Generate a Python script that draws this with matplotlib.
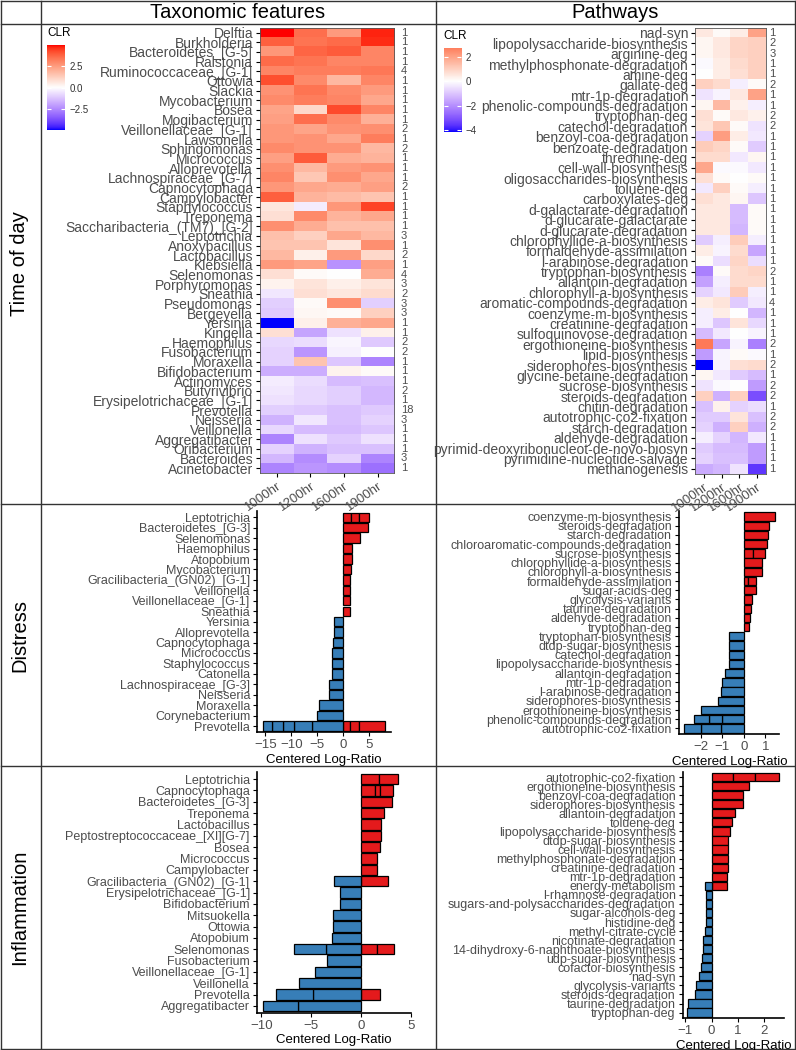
import numpy as np
import matplotlib
matplotlib.use('Agg')
import matplotlib.pyplot as plt
import matplotlib.colors as mcolors
from matplotlib.transforms import blended_transform_factory

plt.rcParams['font.family'] = ['Liberation Sans', 'DejaVu Sans']

### data: time of day heatmaps
hours = ['1000hr', '1200hr', '1600hr', '1900hr']

tax_names = ['Delftia', 'Burkholderia', 'Bacteroidetes_[G-5]', 'Ralstonia', 'Ruminococcaceae_[G-1]',
             'Ottowia', 'Slackia', 'Mycobacterium', 'Bosea', 'Mogibacterium', 'Veillonellaceae_[G-1]',
             'Lawsonella', 'Sphingomonas', 'Micrococcus', 'Alloprevotella', 'Lachnospiraceae_[G-7]',
             'Capnocytophaga', 'Campylobacter', 'Staphylococcus', 'Treponema',
             'Saccharibacteria_(TM7)_[G-2]', 'Leptotrichia', 'Anoxybacillus', 'Lactobacillus',
             'Klebsiella', 'Selenomonas', 'Porphyromonas', 'Sneathia', 'Pseudomonas', 'Bergeyella',
             'Yersinia', 'Kingella', 'Haemophilus', 'Fusobacterium', 'Moraxella', 'Bifidobacterium',
             'Actinomyces', 'Butyrivibrio', 'Erysipelotrichaceae_[G-1]', 'Prevotella', 'Neisseria',
             'Veillonella', 'Aggregatibacter', 'Oribacterium', 'Bacteroides', 'Acinetobacter']
tax_counts = [1, 1, 1, 1, 4, 1, 1, 1, 1, 1, 2, 1, 2, 1, 1, 1, 2, 1, 1, 1, 1, 3, 1, 2,
              1, 4, 3, 2, 3, 3, 1, 1, 2, 2, 1, 1, 1, 2, 1, 18, 3, 1, 1, 1, 3, 1]
tax_clr = [
    [4.9, 3.5, 2.5, 4.7], [3.8, 3.4, 3.6, 4.6], [2.6, 3.7, 3.9, 3.0], [3.6, 3.4, 3.0, 3.0],
    [3.0, 3.2, 3.2, 3.3], [4.1, 2.9, 1.8, 3.0], [2.7, 3.4, 2.9, 2.5], [2.9, 3.2, 3.0, 2.2],
    [2.3, 1.0, 4.2, 3.0], [2.4, 3.5, 2.9, 2.0], [2.6, 2.3, 2.7, 2.8], [2.6, 2.7, 2.2, 3.2],
    [2.9, 2.7, 2.7, 1.8], [2.4, 3.9, 2.1, 1.9], [2.8, 1.8, 2.5, 2.7], [3.0, 1.4, 2.8, 2.2],
    [2.6, 2.2, 2.1, 2.4], [3.8, 1.9, 1.7, 1.5], [0.6, -0.4, 2.6, 4.3], [0.8, 2.9, 1.9, 2.2],
    [2.8, 2.1, 1.6, 1.6], [1.6, 1.2, 2.2, 1.8], [1.5, 1.5, 0.7, 2.8], [1.8, 0.4, 2.5, 1.0],
    [2.5, 2.3, -2.3, 2.4], [0.8, 0.1, 0.0, 2.1], [0.3, 0.7, 0.4, 0.7], [-0.5, 0.8, 0.6, 0.9],
    [-1.0, 0.1, 2.8, -1.0], [-1.1, 0.2, 0.1, 1.2], [-4.9, 0.4, 2.0, 2.2], [0.8, -1.9, -0.6, 0.4],
    [-0.8, -0.7, -0.2, -1.1], [-0.9, -2.2, -0.3, 0.0], [-0.9, 1.5, -1.2, -2.6], [-1.7, -1.7, 0.3, 0.1],
    [-0.4, -0.7, -1.4, -1.3], [-0.5, -0.8, -1.0, -1.5], [-0.6, -0.8, -1.0, -1.5], [-1.0, -1.1, -1.3, -1.1],
    [-1.6, -0.5, -1.3, -0.9], [-0.8, -1.4, -1.4, -1.2], [-2.6, -0.6, -1.1, -0.6], [-0.9, -1.6, -1.3, -1.3],
    [-1.5, -2.4, -0.9, -2.6], [-2.6, -2.2, -2.4, -3.0]]

path_names = ['nad-syn', 'lipopolysaccharide-biosynthesis', 'arginine-deg', 'methylphosphonate-degradation',
              'amine-deg', 'gallate-deg', 'mtr-1p-degradation', 'phenolic-compounds-degradation',
              'tryptophan-deg', 'catechol-degradation', 'benzoyl-coa-degradation', 'benzoate-degradation',
              'threonine-deg', 'cell-wall-biosynthesis', 'oligosaccharides-biosynthesis', 'toluene-deg',
              'carboxylates-deg', 'd-galactarate-degradation', 'd-glucarate-galactarate',
              'd-glucarate-degradation', 'chlorophyllide-a-biosynthesis', 'formaldehyde-assimilation',
              'l-arabinose-degradation', 'tryptophan-biosynthesis', 'allantoin-degradation',
              'chlorophyll-a-biosynthesis', 'aromatic-compounds-degradation', 'coenzyme-m-biosynthesis',
              'creatinine-degradation', 'sulfoquinovose-degradation', 'ergothioneine-biosynthesis',
              'lipid-biosynthesis', 'siderophores-biosynthesis', 'glycine-betaine-degradation',
              'sucrose-biosynthesis', 'steroids-degradation', 'chitin-degradation',
              'autotrophic-co2-fixation', 'starch-degradation', 'aldehyde-degradation',
              'pyrimid-deoxyribonucleot-de-novo-biosyn', 'pyrimidine-nucleotide-salvage', 'methanogenesis']
path_counts = [1, 2, 3, 1, 1, 2, 1, 1, 2, 2, 1, 1, 1, 1, 1, 1, 1, 1, 1, 1, 1, 1,
               1, 2, 1, 1, 4, 1, 1, 1, 2, 1, 2, 1, 2, 2, 1, 2, 2, 1, 1, 1, 1]
path_clr = [
    [0.5, 0.1, 0.4, 2.0], [0.2, 0.5, 0.9, 1.0], [0.2, 0.5, 0.9, 1.0], [-0.1, 0.4, 0.8, 1.0],
    [0.0, 0.4, 0.7, 1.0], [1.0, 0.8, -0.3, 0.1], [-0.5, -0.2, 0.5, 2.0], [0.2, 1.5, 0.3, -0.3],
    [0.7, 0.1, 0.5, 0.3], [0.6, 1.2, 0.1, -0.5], [-0.8, 2.1, 0.4, -0.4], [1.1, 0.9, 0.1, -0.9],
    [0.8, 0.8, -0.4, 0.2], [1.9, -0.1, -0.1, -0.4], [0.7, 0.1, 0.0, 0.1], [-0.4, 1.0, 0.1, -0.3],
    [0.7, 0.5, 0.2, -1.0], [0.5, 0.5, -1.2, 0.1], [0.5, 0.5, -1.2, 0.1], [0.5, 0.5, -1.3, 0.1],
    [-0.9, -0.3, 1.1, -0.3], [0.4, -0.2, 0.8, -1.6], [0.1, -0.6, 0.9, -0.6], [-2.3, 0.1, 0.8, 0.9],
    [-1.7, -0.3, 0.8, 0.8], [-0.8, -0.4, 1.1, -0.3], [0.4, 0.6, -0.9, -0.4], [-0.3, 0.4, 0.0, -1.3],
    [-0.3, -1.0, 0.6, -0.7], [-1.2, -0.4, 0.0, -0.2], [2.8, -1.6, -0.2, -2.3], [-1.8, -0.2, 0.1, -0.1],
    [-4.2, -0.2, 0.7, 0.8], [0.2, -0.4, -0.9, -1.2], [-0.5, -0.1, 0.0, -1.8], [1.0, -1.4, 1.0, -3.2],
    [-1.1, 0.3, -0.8, -0.6], [-0.9, -0.9, 0.6, -1.1], [-0.8, -1.4, 1.0, -1.4], [-0.3, -0.8, -1.3, -0.4],
    [-0.9, -1.2, -1.2, -1.8], [-0.8, -1.1, -1.1, -1.8], [-1.5, -1.3, -0.5, -3.6]]

### data: distress bars (segments stacked outward from zero)
dis_tax_names = ['Leptotrichia', 'Bacteroidetes_[G-3]', 'Selenomonas', 'Haemophilus', 'Atopobium',
                 'Mycobacterium', 'Gracilibacteria_(GN02)_[G-1]', 'Veillonella', 'Veillonellaceae_[G-1]',
                 'Sneathia', 'Yersinia', 'Alloprevotella', 'Capnocytophaga', 'Micrococcus',
                 'Staphylococcus', 'Catonella', 'Lachnospiraceae_[G-3]', 'Neisseria', 'Moraxella',
                 'Corynebacterium', 'Prevotella']
dis_tax_pos = [[1.4, 1.7, 1.9], [4.8], [3.2], [1.7], [1.7], [1.5], [1.3], [1.3], [1.3], [1.2],
               [], [], [], [], [], [], [], [], [], [], [1.3, 1.8, 4.9]]
dis_tax_neg = [[], [], [], [], [], [], [], [], [], [],
               [-1.8], [-1.8], [-1.9], [-2.1], [-2.1], [-2.1], [-2.7], [-2.7], [-4.6], [-5.1],
               [-6.1, -3.5, -2.1, -2.1, -1.6]]

dis_path_names = ['coenzyme-m-biosynthesis', 'steroids-degradation', 'starch-degradation',
                  'chloroaromatic-compounds-degradation', 'sucrose-biosynthesis',
                  'chlorophyllide-a-biosynthesis', 'chlorophyll-a-biosynthesis', 'formaldehyde-assimilation',
                  'sugar-acids-deg', 'glycolysis-variants', 'taurine-degradation', 'aldehyde-degradation',
                  'tryptophan-deg', 'tryptophan-biosynthesis', 'dtdp-sugar-biosynthesis',
                  'catechol-degradation', 'lipopolysaccharide-biosynthesis', 'allantoin-degradation',
                  'mtr-1p-degradation', 'l-arabinose-degradation', 'siderophores-biosynthesis',
                  'ergothioneine-biosynthesis', 'phenolic-compounds-degradation', 'autotrophic-co2-fixation']
dis_path_pos = [[1.44], [1.18], [1.13], [1.05], [0.43, 0.54], [0.85], [0.82], [0.2, 0.36], [0.56],
                [0.36], [0.31], [0.28], [0.25], [], [], [], [], [], [], [], [], [], [], []]
dis_path_neg = [[], [], [], [], [], [], [], [], [], [], [], [], [],
                [-0.68], [-0.68], [-0.68], [-0.68], [-0.88], [-0.99], [-1.04], [-1.19], [-1.97],
                [-0.99, -0.62, -0.71], [-1.04, -0.93, -0.82]]

### data: inflammation bars
inf_tax_names = ['Leptotrichia', 'Capnocytophaga', 'Bacteroidetes_[G-3]', 'Treponema', 'Lactobacillus',
                 'Peptostreptococcaceae_[XI][G-7]', 'Bosea', 'Micrococcus', 'Campylobacter',
                 'Gracilibacteria_(GN02)_[G-1]', 'Erysipelotrichaceae_[G-1]', 'Bifidobacterium',
                 'Mitsuokella', 'Ottowia', 'Atopobium', 'Selenomonas', 'Fusobacterium',
                 'Veillonellaceae_[G-1]', 'Veillonella', 'Prevotella', 'Aggregatibacter']
inf_tax_pos = [[1.76, 1.94], [1.37, 0.5, 1.35], [3.07], [2.25], [2.0], [2.0], [1.93], [1.6], [1.54],
               [2.68], [], [], [], [], [], [1.54, 1.73], [], [], [], [1.93], []]
inf_tax_neg = [[], [], [], [], [], [], [], [], [],
               [-2.7], [-2.16], [-2.16], [-2.78], [-2.78], [-2.88], [-3.53, -3.17], [-3.43], [-4.67],
               [-6.24], [-4.84, -3.66], [-6.37, -3.43]]

inf_path_names = ['autotrophic-co2-fixation', 'ergothioneine-biosynthesis', 'benzoyl-coa-degradation',
                  'siderophores-biosynthesis', 'allantoin-degradation', 'toluene-deg',
                  'lipopolysaccharide-biosynthesis', 'dtdp-sugar-biosynthesis', 'cell-wall-biosynthesis',
                  'methylphosphonate-degradation', 'creatinine-degradation', 'mtr-1p-degradation',
                  'energy-metabolism', 'l-rhamnose-degradation', 'sugars-and-polysaccharides-degradation',
                  'sugar-alcohols-deg', 'histidine-deg', 'methyl-citrate-cycle', 'nicotinate-degradation',
                  '14-dihydroxy-6-naphthoate-biosynthesis', 'udp-sugar-biosynthesis',
                  'cofactor-biosynthesis', 'nad-syn', 'glycolysis-variants', 'steroids-degradation',
                  'taurine-degradation', 'tryptophan-deg']
inf_path_pos = [[0.83, 0.83, 0.91], [1.42], [1.19], [1.19], [0.87], [0.78], [0.68], [0.64], [0.64],
                [0.62], [0.62], [0.59], [0.59], [], [], [], [], [], [], [], [], [], [], [], [], [], []]
inf_path_neg = [[], [], [], [], [], [], [], [], [], [], [], [],
                [-0.26], [-0.22], [-0.22], [-0.22], [-0.22], [-0.24], [-0.31], [-0.32], [-0.38],
                [-0.41], [-0.47], [-0.58], [-0.63], [-0.88], [-0.92]]

RED = '#E41A1C'
BLUE = '#377EB8'
GREY = '#4D4D4D'
W, H = 796, 1050


### blue-white-red ramp interpolated in Lab, like ggplot's gradient2
def to_lab(c):
    rgb = np.array(mcolors.to_rgb(c))
    lin = np.where(rgb <= 0.04045, rgb / 12.92, ((rgb + 0.055) / 1.055) ** 2.4)
    M = np.array([[0.4124, 0.3576, 0.1805], [0.2126, 0.7152, 0.0722], [0.0193, 0.1192, 0.9505]])
    xyz = M @ lin / np.array([0.95047, 1.0, 1.08883])
    f = np.where(xyz > 0.008856, np.cbrt(xyz), 7.787 * xyz + 16 / 116)
    return np.array([116 * f[1] - 16, 500 * (f[0] - f[1]), 200 * (f[1] - f[2])])


def from_lab(lab):
    fy = (lab[0] + 16) / 116
    f = np.array([fy + lab[1] / 500, fy, fy - lab[2] / 200])
    xyz = np.where(f ** 3 > 0.008856, f ** 3, (f - 16 / 116) / 7.787) * np.array([0.95047, 1.0, 1.08883])
    Minv = np.array([[3.2406, -1.5372, -0.4986], [-0.9689, 1.8758, 0.0415], [0.0557, -0.2040, 1.0570]])
    lin = np.clip(Minv @ xyz, 0, 1)
    rgb = np.where(lin <= 0.0031308, 12.92 * lin, 1.055 * lin ** (1 / 2.4) - 0.055)
    return np.clip(rgb, 0, 1)


lo, mid, hi = to_lab('blue'), to_lab('white'), to_lab('red')
ramp = []
for t in np.linspace(0, 1, 257):
    if t < 0.5:
        s = t / 0.5
        ramp.append(from_lab(lo * (1 - s) + mid * s))
    else:
        s = (t - 0.5) / 0.5
        ramp.append(from_lab(mid * (1 - s) + hi * s))
cmap = mcolors.ListedColormap(ramp)


def frac(l, t, r, b):
    return [l / W, 1 - b / H, (r - l) / W, (b - t) / H]


fig = plt.figure(figsize=(W / 100, H / 100), dpi=100)

# table frame
bg = fig.add_axes([0, 0, 1, 1], zorder=-1)
bg.set_xlim(0, W)
bg.set_ylim(H, 0)
bg.axis('off')
for y in [0.7, 24.3, 504.3, 765.7, 1048.5]:
    bg.plot([0.5, 795.5], [y, y], color='#333333', lw=1.0)
for x in [0.7, 40.7, 435.7, 795.3]:
    bg.plot([x, x], [0.7, 1048.5], color='#333333', lw=1.0)
bg.text(238, 13, 'Taxonomic features', ha='center', va='center', fontsize=14.5)
bg.text(615, 13, 'Pathways', ha='center', va='center', fontsize=14.5)
bg.text(20, 264, 'Time of day', ha='center', va='center', rotation=90, fontsize=14.5)
bg.text(20, 635, 'Distress', ha='center', va='center', rotation=90, fontsize=14.5)
bg.text(20, 907, 'Inflammation', ha='center', va='center', rotation=90, fontsize=14.5)


def heat_panel(rect, cb_rect, names, vals, counts, cb_ticks):
    vals = np.array(vals)
    m = np.abs(vals).max()
    norm = mcolors.Normalize(-m, m)
    ax = fig.add_axes(frac(*rect))
    ax.imshow(vals, aspect='auto', cmap=cmap, norm=norm, interpolation='nearest')
    ax.set_yticks(range(len(names)))
    ax.set_yticklabels(names, fontsize=10, color=GREY)
    ax.set_xticks(range(len(hours)))
    ax.set_xticklabels(hours, fontsize=9.5, color=GREY, rotation=35, ha='right', rotation_mode='anchor')
    ax.tick_params(length=3, width=0.8, pad=2)
    for s in ax.spines.values():
        s.set_color('#555555')
        s.set_linewidth(0.6)
    tr = blended_transform_factory(ax.transAxes, ax.transData)
    for i, c in enumerate(counts):
        ax.text(1.05, i, str(c), transform=tr, fontsize=8, color=GREY, va='center', ha='left')
    # legend bar
    cb = fig.add_axes(frac(*cb_rect))
    grad = np.linspace(vals.max(), vals.min(), 200)[:, None]
    cb.imshow(grad, aspect='auto', cmap=cmap, norm=norm, extent=(0, 1, vals.min(), vals.max()))
    cb.set_xticks([])
    cb.set_yticks(cb_ticks)
    cb.tick_params(axis='y', direction='in', color='white', length=3, width=0.8,
                   left=True, right=True, labelleft=False, labelright=True, labelsize=7, labelcolor='#333333')
    for s in cb.spines.values():
        s.set_visible(False)
    cb.text(0, 1.07, 'CLR', transform=cb.transAxes, fontsize=8.5, va='bottom', ha='left')


heat_panel((260, 27.7, 394.3, 473), (47, 45, 65, 130), tax_names, tax_clr, tax_counts, [2.5, 0, -2.5])
heat_panel((695, 27.7, 765.7, 474), (443.7, 47.7, 461, 132), path_names, path_clr, path_counts, [2, 0, -2, -4])


def bar_panel(rect, names, pos, neg, xticks):
    ax = fig.add_axes(frac(*rect))
    n = len(names)
    for i in range(n):
        for segs in (pos[i], neg[i]):
            left = 0
            for v in segs:
                ax.barh(i, v, left=left, height=0.9, color=RED if v > 0 else BLUE,
                        edgecolor='black', linewidth=0.9)
                left += v
    ax.set_yticks(range(n))
    ax.set_yticklabels(names, fontsize=9, color=GREY)
    ax.set_ylim(n - 0.4, -0.6)
    ax.margins(x=0.05)
    ax.set_xticks(xticks)
    ax.tick_params(axis='x', labelsize=9.5, labelcolor=GREY)
    ax.tick_params(length=3, width=0.8, pad=2)
    ax.set_xlabel('Centered Log-Ratio', fontsize=9.5, labelpad=2)
    ax.spines['top'].set_visible(False)
    ax.spines['right'].set_visible(False)
    ax.spines['left'].set_linewidth(1.2)
    ax.spines['bottom'].set_linewidth(1.2)


bar_panel((257.3, 511, 391, 732.3), dis_tax_names, dis_tax_pos, dis_tax_neg, [-15, -10, -5, 0, 5])
bar_panel((679, 511, 779.5, 734), dis_path_names, dis_path_pos, dis_path_neg, [-2, -1, 0, 1])
bar_panel((256.7, 772.3, 411, 1012.7), inf_tax_names, inf_tax_pos, inf_tax_neg, [-10, -5, 0, 5])
bar_panel((682.7, 771.7, 784, 1018), inf_path_names, inf_path_pos, inf_path_neg, [-1, 0, 1, 2])

plt.savefig('out.png', dpi=100)
